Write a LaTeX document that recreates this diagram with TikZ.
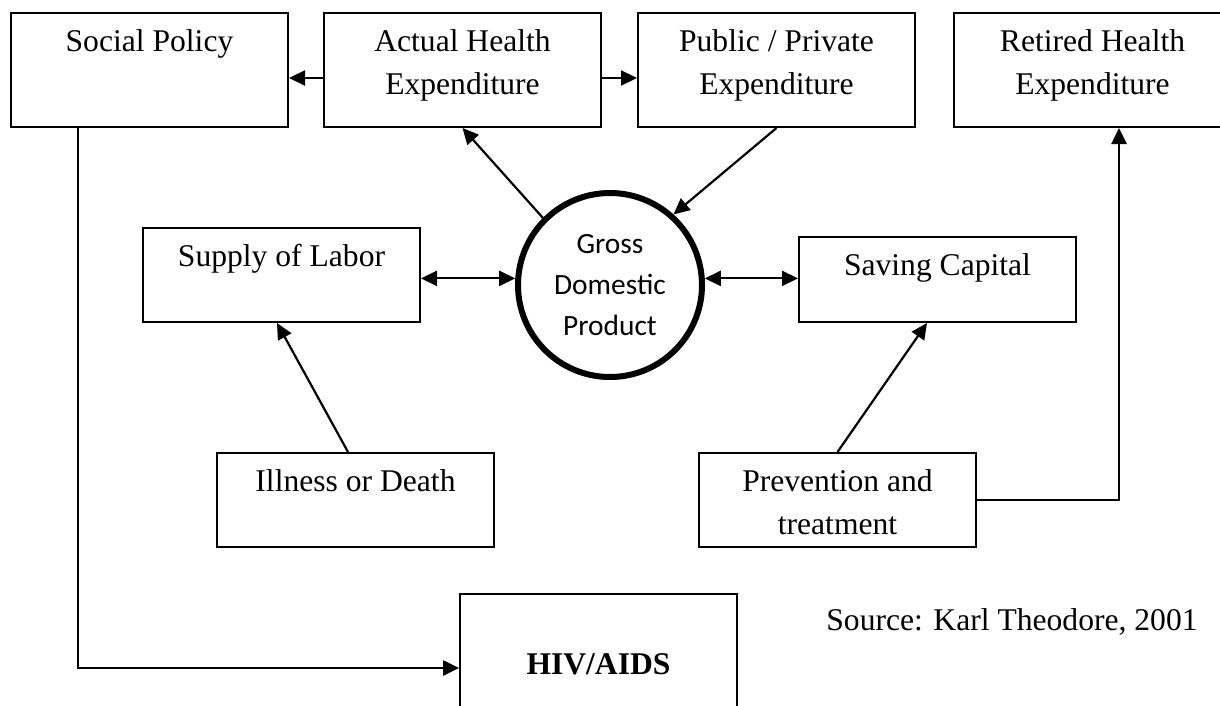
\documentclass[tikz,border=0pt]{standalone}
\usepackage{fontspec}
\setmainfont{Liberation Serif}
\newfontfamily\calibri{Carlito}
\usetikzlibrary{arrows.meta}
\begin{document}
\begin{tikzpicture}[x=0.5pt,y=-0.5pt,
  box/.style={draw, line width=1pt, minimum width=138.5pt, inner sep=0pt},
  lbl/.style={anchor=north, inner sep=0pt, align=center, font=\fontsize{15.8}{21.6}\selectfont},
  tip/.style={-{Triangle[length=8pt,width=7.5pt]}},
  arr/.style={line width=1.1pt, tip},
  darr/.style={line width=1.1pt, {Triangle[length=8pt,width=7.5pt]}-{Triangle[length=8pt,width=7.5pt]}},
  link/.style={line width=1.3pt, tip},
]
\clip (0,0) rectangle (1220,706);
% top row
\node[box, minimum height=57pt] (soc) at (149.5,70) {};
\node[box, minimum height=57pt] (ahe) at (462.5,70) {};
\node[box, minimum height=57pt] (ppe) at (776.5,70) {};
\node[box, minimum height=57pt] (rhe) at (1092.5,70) {};
\node[lbl] (socl) at ([yshift=-4.4pt]soc.north) {\strut Social Policy};
\node[lbl] (ahel) at ([yshift=-4.4pt]ahe.north) {\strut Actual Health\\Expenditure};
\node[lbl] (ppel) at ([yshift=-4.4pt]ppe.north) {\strut Public / Private\\Expenditure};
\node[lbl] (rhel) at ([yshift=-4.4pt]rhe.north) {\strut Retired Health\\Expenditure};
% middle row
\node[box, minimum height=47pt] (sup) at (281.5,275) {};
\node[box, minimum height=42.5pt] (sav) at (937.5,279.5) {};
\node[lbl] (supl) at ([yshift=-4.4pt]sup.north) {\strut Supply of Labor};
\node[lbl] (savl) at ([yshift=-4.4pt]sav.north) {\strut Saving Capital};
\node[draw, circle, line width=3pt, minimum size=92pt, inner sep=0pt, align=center,
      font=\calibri\fontsize{14.7}{20.5}\selectfont] (gdp) at (610,285) {Gross\\Domestic\\Product};
% lower row
\node[box, minimum height=47pt] (ill) at (355.5,500) {};
\node[box, minimum height=47pt] (pre) at (837.5,500) {};
\node[lbl] (illl) at ([yshift=-4.4pt]ill.north) {\strut Illness or Death};
\node[lbl] (prel) at ([yshift=-4.4pt]pre.north) {\strut Prevention and\\treatment};
% HIV box
\node[box, minimum height=74pt] (hiv) at (598.5,668) {};
\node[lbl] (hivl) at ([yshift=-25.4pt]hiv.north) {\strut\bfseries HIV/AIDS};
% source
\node[anchor=base, inner sep=0pt, font=\fontsize{15.8}{21.6}\selectfont] (src) at (1012,630) {Source: Karl Theodore, 2001};
% connectors
\draw[arr] ([yshift=-4pt]ahe.west) -- ([yshift=-4pt]soc.east);
\draw[arr] ([yshift=-4pt]ahe.east) -- ([yshift=-4pt]ppe.west);
\draw[arr] (gdp.135) -- (ahe.south);
\draw[arr] (ppe.south) -- (gdp.48);
\draw[darr] (sup.east |- gdp.176) -- (gdp.176);
\draw[darr] (gdp.4) -- (sav.west |- gdp.4);
\draw[arr] ([xshift=-3.75pt]ill.north) -- ([xshift=-2.25pt]sup.south);
\draw[arr] (pre.north) -- ([xshift=-5.25pt]sav.south);
\draw[link] (pre.east) -| ([xshift=13.25pt]rhe.south);
\draw[link] ([xshift=-35.75pt]soc.south) |- (hiv.west);
\end{tikzpicture}
\end{document}
